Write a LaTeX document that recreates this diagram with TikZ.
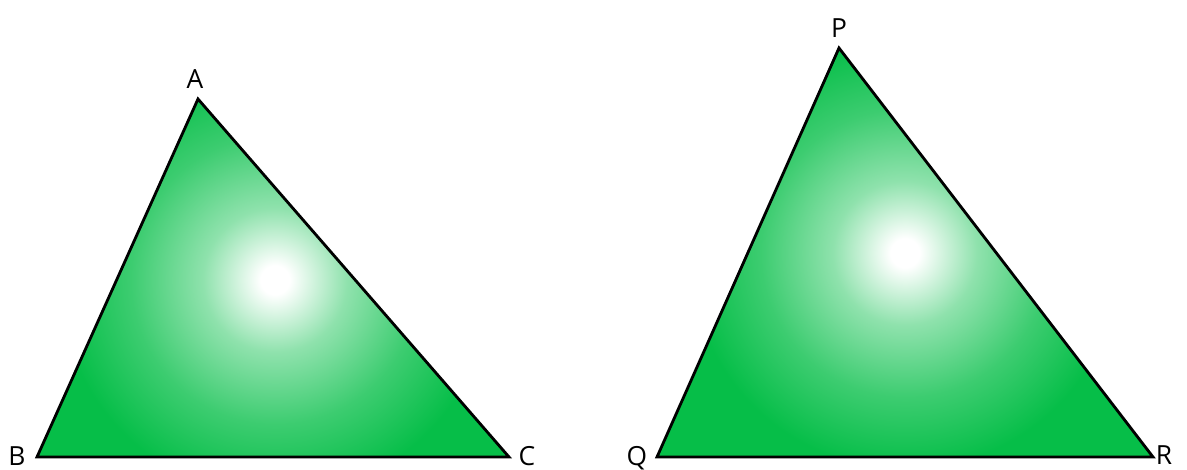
\documentclass[tikz,border=0pt]{standalone}
\usepackage{fontspec}
\setmainfont{Open Sans}
\definecolor{trigreen}{RGB}{6,190,72}
\pgfdeclareradialshading{triglow}{\pgfpoint{0bp}{0bp}}{color(0bp)=(white); color(1.2bp)=(white); color(6bp)=(trigreen!45!white); color(12bp)=(trigreen!78!white); color(18bp)=(trigreen); color(50bp)=(trigreen)}
\begin{document}
\begin{tikzpicture}[x=0.02cm,y=-0.02cm,
  tri/.style={draw=black, line width=1.6pt, line join=miter},
  lbl/.style={inner sep=0pt, font=\fontsize{15}{17}\selectfont}]
\useasboundingbox (0,0) rectangle (1187,470);
\coordinate (A) at (198,99);
\coordinate (B) at (37,457);
\coordinate (C) at (509,457);
\coordinate (P) at (839,48);
\coordinate (Q) at (657,457);
\coordinate (R) at (1153,457);
\coordinate (g1) at (275,280);
\coordinate (g2) at (905,253);
\fill[trigreen] (A) -- (B) -- (C) -- cycle;
\begin{scope}
  \clip (A) -- (B) -- (C) -- cycle;
  \shade[shading=triglow] (g1) circle[radius=300];
\end{scope}
\fill[trigreen] (P) -- (Q) -- (R) -- cycle;
\begin{scope}
  \clip (P) -- (Q) -- (R) -- cycle;
  \shade[shading=triglow] (g2) circle[radius=300];
\end{scope}
\draw[tri] (A) -- (B) -- (C) -- cycle;
\draw[tri] (P) -- (Q) -- (R) -- cycle;
\node[lbl] (la) at (195,79) {A};
\node[lbl] (lb) at (17,456) {B};
\node[lbl] (lc) at (527,456) {C};
\node[lbl] (lp) at (839,28) {P};
\node[lbl] (lq) at (637,458) {Q};
\node[lbl] (lr) at (1164,455) {R};
\end{tikzpicture}
\end{document}
